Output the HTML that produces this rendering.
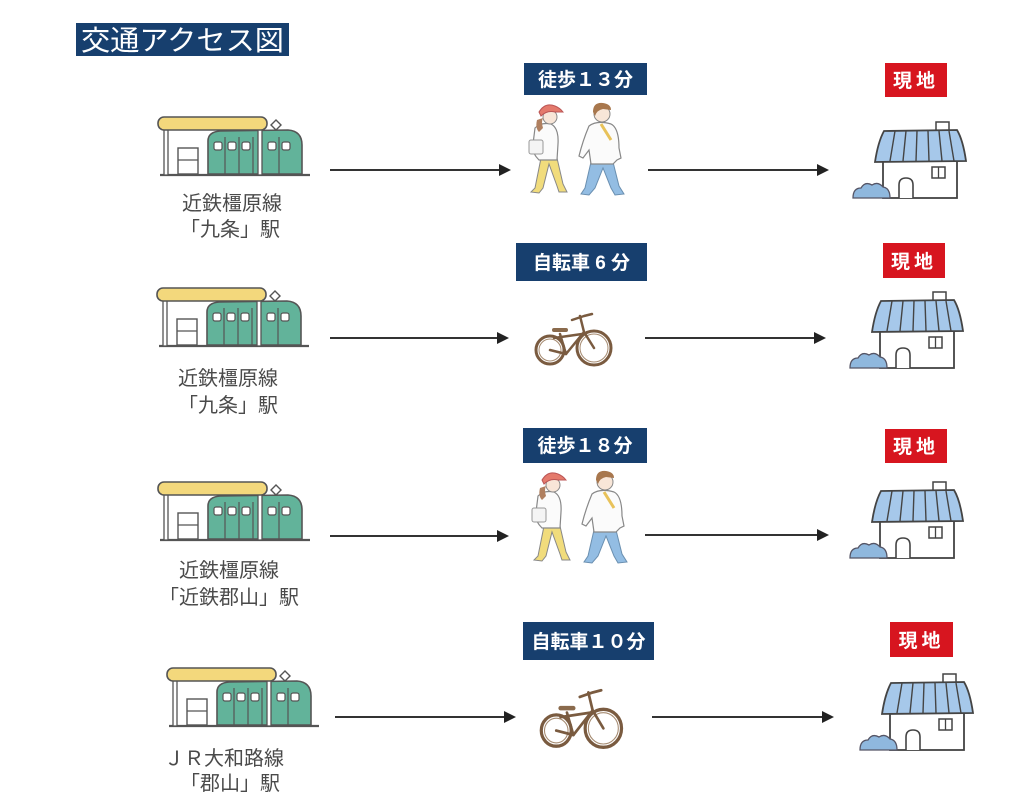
<!DOCTYPE html>
<html><head><meta charset="utf-8">
<style>
html,body{margin:0;padding:0;background:#fff;}
body{width:1010px;height:800px;overflow:hidden;}
svg{display:block;}
.st{font-family:"Liberation Sans","Noto Sans CJK JP",sans-serif;font-size:20px;fill:#4a4a4a;text-anchor:middle;}
.lb{font-family:"Liberation Sans","Noto Sans CJK JP",sans-serif;font-size:19px;fill:#fff;text-anchor:middle;font-weight:bold;}
.tt{font-family:"Liberation Sans","Noto Sans CJK JP",sans-serif;font-size:28px;fill:#fff;}
</style></head>
<body>
<svg width="1010" height="800" viewBox="0 0 1010 800" xmlns="http://www.w3.org/2000/svg">
<defs>
  <g id="station">
    <!-- ground -->
    <line x1="2" y1="58" x2="152" y2="58" stroke="#555" stroke-width="2.2"/>
    <!-- train -->
    <path d="M50 57 L50 24 Q50 15 62 14 L130 13 Q144 14 144 28 L144 57 Z" fill="#62b39a" stroke="#555" stroke-width="1.6"/>
    <g fill="#fff" stroke="#555" stroke-width="1.2">
      <rect x="56" y="25" width="8" height="8" rx="2"/>
      <rect x="70" y="25" width="8" height="8" rx="2"/>
      <rect x="84" y="25" width="8" height="8" rx="2"/>
      <rect x="110" y="25" width="8" height="8" rx="2"/>
      <rect x="124" y="25" width="8" height="8" rx="2"/>
    </g>
    <g stroke="#555" stroke-width="1.2">
      <line x1="67" y1="20" x2="67" y2="57"/>
      <line x1="81" y1="20" x2="81" y2="57"/>
      <line x1="95" y1="20" x2="95" y2="57"/>
      <line x1="121" y1="20" x2="121" y2="57"/>
    </g>
    <!-- pantograph -->
    <path d="M118 3 L123 8 L118 13 L113 8 Z" fill="#fff" stroke="#555" stroke-width="1.4"/>
    <!-- poles -->
    <rect x="6" y="12" width="4" height="46" fill="#fff" stroke="#555" stroke-width="1.3"/>
    <rect x="100" y="12" width="4" height="46" fill="#fff" stroke="#555" stroke-width="1.3"/>
    <!-- bench -->
    <rect x="20" y="31" width="20" height="26" fill="#fff" stroke="#555" stroke-width="1.4"/>
    <line x1="20" y1="43" x2="40" y2="43" stroke="#555" stroke-width="1.3"/>
    <!-- canopy -->
    <rect x="0" y="0" width="109" height="13" rx="6" fill="#f3d87c" stroke="#555" stroke-width="1.6"/>
  </g>
  <g id="house">
    <rect x="61" y="-8" width="13" height="11" fill="#fff" stroke="#444" stroke-width="1.5"/>
    <rect x="8" y="31" width="74" height="37" fill="#fff" stroke="#444" stroke-width="1.8"/>
    <path d="M9 1 L82 0 Q88 10 91 31 L0 32 Q3 12 9 1 Z" fill="#a6c8ea" stroke="#444" stroke-width="1.8"/>
    <g stroke="#444" stroke-width="1.4">
      <line x1="20" y1="1" x2="15" y2="31"/>
      <line x1="31" y1="1" x2="28" y2="31"/>
      <line x1="42" y1="1" x2="41" y2="31"/>
      <line x1="53" y1="1" x2="54" y2="31"/>
      <line x1="64" y1="1" x2="67" y2="31"/>
      <line x1="74" y1="1" x2="79" y2="31"/>
    </g>
    <rect x="57" y="37" width="13" height="11" fill="#fff" stroke="#444" stroke-width="1.5"/>
    <line x1="63.5" y1="37" x2="63.5" y2="48" stroke="#444" stroke-width="1.3"/>
    <path d="M24 68 L24 55 Q24 48 31 48 Q38 48 38 55 L38 68" fill="#fff" stroke="#444" stroke-width="1.6"/>
    <path d="M-22 68 Q-22 58 -14 58 Q-10 51 -3 55 Q3 51 8 57 Q15 58 15 68 Z" fill="#8fb8de" stroke="#556" stroke-width="1.3"/>
  </g>
  <g id="walkers">
    <!-- woman -->
    <path d="M14 58 L8 88 L4 92 L12 93 L16 88 L22 64 L30 86 L32 92 L40 92 L36 84 L30 58 Z" fill="#f1dc7c" stroke="#888" stroke-width="1"/>
    <path d="M8 28 Q14 22 24 24 Q32 28 31 44 L30 60 L12 60 Q4 52 6 44 Z" fill="#fbfbfb" stroke="#888" stroke-width="1.2"/>
    <rect x="2" y="40" width="14" height="14" rx="2" fill="#f4f4f4" stroke="#999" stroke-width="1"/>
    <circle cx="23" cy="17" r="7" fill="#f8e6d8" stroke="#888" stroke-width="1"/>
    <path d="M10 20 Q8 28 12 32 L16 28 Q14 22 16 18 Z" fill="#b08060"/>
    <path d="M12 12 Q18 2 28 6 Q33 8 36 12 L28 12 Q20 10 14 16 Z" fill="#e47a6c" stroke="#b55" stroke-width="1"/>
    <!-- man -->
    <path d="M64 62 L58 88 L54 94 L62 95 L68 88 L76 68 L84 88 L88 95 L97 94 L92 86 L86 62 Z" fill="#93bde3" stroke="#6a8fb0" stroke-width="1"/>
    <path d="M62 26 Q70 20 84 24 Q92 28 92 48 L94 58 L90 60 L86 64 L64 64 L62 50 L56 58 L52 56 Q56 40 62 26 Z" fill="#fbfbfb" stroke="#888" stroke-width="1.2"/>
    <line x1="74" y1="24" x2="84" y2="40" stroke="#e8c25a" stroke-width="3"/>
    <circle cx="75" cy="14" r="8" fill="#f8e6d8" stroke="#888" stroke-width="1"/>
    <path d="M66 12 Q66 2 76 3 Q84 4 84 10 L76 9 Q70 10 68 16 Z" fill="#a8774d"/>
  </g>
  <g id="bike" fill="none" stroke="#7a5b40" stroke-linecap="round" stroke-linejoin="round">
    <circle cx="18" cy="38" r="14" stroke-width="3"/>
    <circle cx="18" cy="38" r="11" stroke-width="1" stroke="#a58a70"/>
    <circle cx="62" cy="36" r="17" stroke-width="3"/>
    <circle cx="62" cy="36" r="14" stroke-width="1" stroke="#a58a70"/>
    <path d="M18 38 L34 42 L52 20 L62 36" stroke-width="2.5"/>
    <path d="M34 42 L28 22 M22 26 Q36 24 50 22" stroke-width="2.5"/>
    <path d="M22 18 L34 18" stroke-width="4" stroke="#8a6a4c"/>
    <path d="M52 20 L48 4 M40 8 L52 4 L60 2" stroke-width="2.5"/>
  </g>
  <g id="arrowhead">
    <path d="M0 0 L-12 -6 L-12 6 Z" fill="#222"/>
  </g>
</defs>

<rect width="1010" height="800" fill="#fff"/>

<!-- Title -->
<rect x="76" y="23" width="213" height="33" fill="#173f6e"/>
<text class="tt" x="81" y="50" textLength="203" lengthAdjust="spacingAndGlyphs">交通アクセス図</text>

<!-- Row 1 -->
<use href="#station" x="158" y="117"/>
<text class="st" x="232" y="210">近鉄橿原線</text>
<text class="st" x="230" y="236">「九条」駅</text>
<line x1="330" y1="170" x2="500" y2="170" stroke="#333" stroke-width="2"/>
<use href="#arrowhead" x="511" y="170"/>
<rect x="524" y="63" width="123" height="32" fill="#173f6e"/>
<text class="lb" x="585.5" y="86">徒歩１３分</text>
<use href="#walkers" x="527" y="100"/>
<line x1="648" y1="170" x2="818" y2="170" stroke="#333" stroke-width="2"/>
<use href="#arrowhead" x="829" y="170"/>
<rect x="885" y="63" width="62" height="34" fill="#d7151f"/>
<text class="lb" x="916" y="87" letter-spacing="4">現地</text>
<use href="#house" x="875" y="130"/>

<!-- Row 2 -->
<use href="#station" x="157" y="288"/>
<text class="st" x="228" y="385">近鉄橿原線</text>
<text class="st" x="228" y="412">「九条」駅</text>
<line x1="330" y1="338" x2="498" y2="338" stroke="#333" stroke-width="2"/>
<use href="#arrowhead" x="509" y="338"/>
<rect x="516" y="243" width="131" height="38" fill="#173f6e"/>
<text class="lb" x="581.5" y="269">自転車 6 分</text>
<use href="#bike" x="532" y="312"/>
<line x1="645" y1="338" x2="815" y2="338" stroke="#333" stroke-width="2"/>
<use href="#arrowhead" x="826" y="338"/>
<rect x="883" y="243" width="62" height="35" fill="#d7151f"/>
<text class="lb" x="914" y="268" letter-spacing="4">現地</text>
<use href="#house" x="872" y="300"/>

<!-- Row 3 -->
<use href="#station" x="158" y="482"/>
<text class="st" x="229" y="577">近鉄橿原線</text>
<text class="st" x="229" y="604">「近鉄郡山」駅</text>
<line x1="330" y1="536" x2="498" y2="536" stroke="#333" stroke-width="2"/>
<use href="#arrowhead" x="509" y="536"/>
<rect x="523" y="428" width="124" height="35" fill="#173f6e"/>
<text class="lb" x="585" y="452">徒歩１８分</text>
<use href="#walkers" x="530" y="468"/>
<line x1="645" y1="535" x2="818" y2="535" stroke="#333" stroke-width="2"/>
<use href="#arrowhead" x="829" y="535"/>
<rect x="885" y="429" width="62" height="34" fill="#d7151f"/>
<text class="lb" x="916" y="453" letter-spacing="4">現地</text>
<use href="#house" x="872" y="490"/>

<!-- Row 4 -->
<use href="#station" x="167" y="668"/>
<text class="st" x="224" y="765">ＪＲ大和路線</text>
<text class="st" x="230" y="790">「郡山」駅</text>
<line x1="335" y1="717" x2="505" y2="717" stroke="#333" stroke-width="2"/>
<use href="#arrowhead" x="516" y="717"/>
<rect x="523" y="622" width="131" height="38" fill="#173f6e"/>
<text class="lb" x="588.5" y="648">自転車１０分</text>
<g transform="translate(537 688) scale(1.07 1.12)"><use href="#bike"/></g>
<line x1="652" y1="717" x2="823" y2="717" stroke="#333" stroke-width="2"/>
<use href="#arrowhead" x="834" y="717"/>
<rect x="890" y="622" width="63" height="35" fill="#d7151f"/>
<text class="lb" x="921.5" y="647" letter-spacing="4">現地</text>
<use href="#house" x="882" y="682"/>
</svg>
</body></html>
